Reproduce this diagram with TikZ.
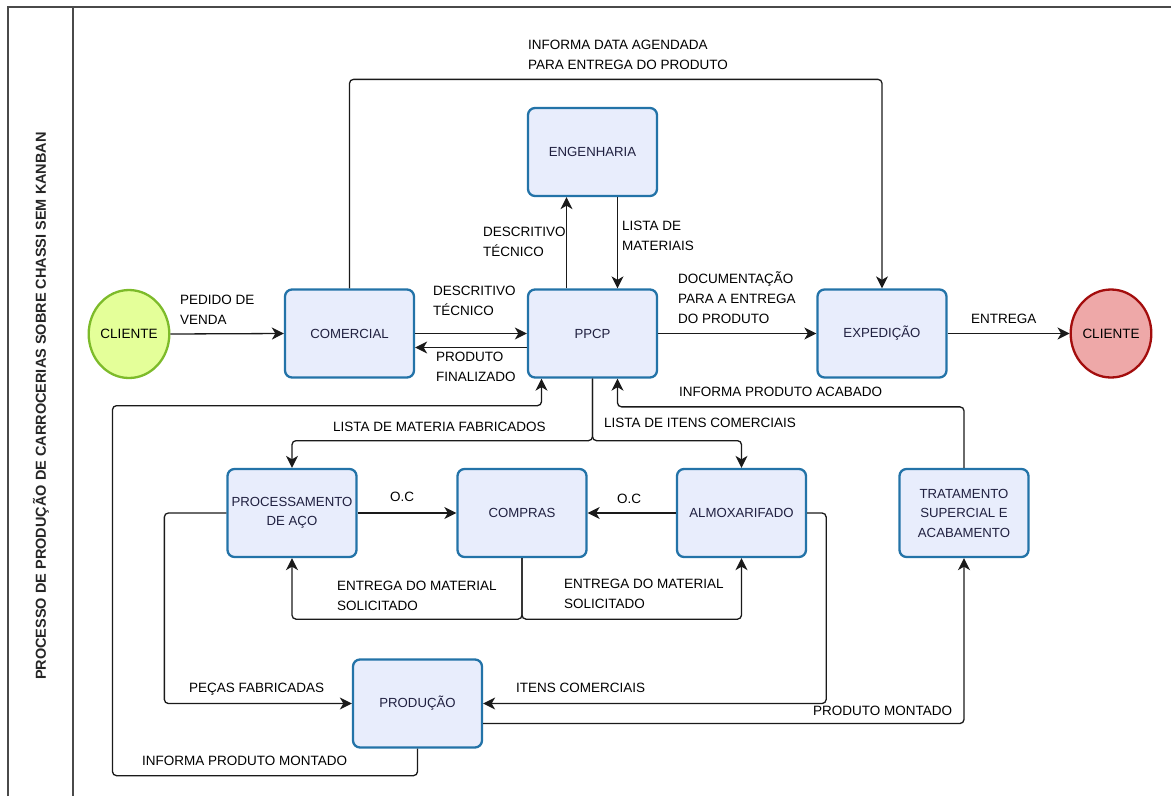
\documentclass[tikz,border=0pt]{standalone}
\usepackage{fontspec}
\setmainfont{Liberation Sans}[BoldFont={Liberation Sans Bold}]
\usepackage{tikz}
\usetikzlibrary{
  arrows.meta,
  shapes.geometric,
  positioning,
  calc
}
\definecolor{kbBox}{HTML}{E8EDFC}
\definecolor{kbEdge}{HTML}{2373A8}
\definecolor{kbText}{HTML}{202040}
\definecolor{kbStartFill}{HTML}{E4FF99}
\definecolor{kbStartEdge}{HTML}{7DBB2A}
\definecolor{kbEndFill}{HTML}{EEA8A8}
\definecolor{kbEndEdge}{HTML}{A30D0D}
\definecolor{kbLine}{HTML}{1A1A1A}
\definecolor{kbFrame}{HTML}{4A4A4A}
\tikzset{
  kbnode/.style={
    draw=kbEdge, fill=kbBox, line width=2.3pt, rounded corners=7pt,
    minimum width=129pt, minimum height=88pt, inner sep=2pt,
    align=center, text=kbText, font=\fontsize{13.2}{19.5}\selectfont
  },
  clientin/.style={draw=kbStartEdge, fill=kbStartFill, ellipse, line width=2.3pt,
    minimum width=77pt, minimum height=88pt, inner sep=0pt, font=\fontsize{13.5}{19}\selectfont},
  clientout/.style={clientin, draw=kbEndEdge, fill=kbEndFill},
  flow/.style={-{Stealth[length=12pt, width=12pt, inset=3.5pt]}, line width=1.3pt, kbLine, rounded corners=4pt},
  lbl/.style={anchor=north west, inner sep=0pt, align=left, font=\fontsize{13.5}{20}\selectfont},
  frame/.style={line width=1.6pt, kbFrame},
  titlebar/.style={rotate=90, font=\bfseries\fontsize{14.5}{17}\selectfont, black!85}
}

\begin{document}
\begin{tikzpicture}[x=1pt, y=-1pt]
  \useasboundingbox (0,0) rectangle (1171,796);
  \draw[frame] (8,796) -- (8,7) -- (1171,7);
  \draw[frame] (73,7) -- (73,796);
  \node[titlebar] (title) at (41,406) {PROCESSO DE PRODUÇÃO DE CARROCERIAS SOBRE CHASSI SEM KANBAN};

  \node[clientin] (cliA) at (129,334) {CLIENTE};
  \node[kbnode] (com) at (349.5,333.5) {COMERCIAL};
  \node[kbnode] (eng) at (592.5,152) {ENGENHARIA};
  \node[kbnode] (ppcp) at (592.5,333.5) {PPCP};
  \node[kbnode] (exp) at (882,333.5) {EXPEDIÇÃO};
  \node[clientout] (cliB) at (1111,333.5) {CLIENTE};
  \node[kbnode] (proc) at (292,513) {PROCESSAMENTO\\DE AÇO};
  \node[kbnode] (comp) at (522,513) {COMPRAS};
  \node[kbnode] (almox) at (741.5,513) {ALMOXARIFADO};
  \node[kbnode] (trat) at (964,513) {TRATAMENTO\\SUPERCIAL E\\ACABAMENTO};
  \node[kbnode] (prod) at (417.5,703.5) {PRODUÇÃO};

  \draw[flow] (cliA.east) -- (com.west);
  \draw[flow] (com.east) -- (ppcp.west);
  \draw[flow] ([yshift=-14pt]ppcp.west) -- ([yshift=-14pt]com.east);
  \draw[flow] ([xshift=-26pt]ppcp.north) -- ([xshift=-26pt]eng.south);
  \draw[flow] ([xshift=25pt]eng.south) -- ([xshift=25pt]ppcp.north);
  \draw[flow] (ppcp.east) -- (exp.west);
  \draw[flow] (exp.east) -- (cliB.west);
  \draw[flow] (com.north) -- ++(0,-209) -| (exp.north);
  \draw[flow] (ppcp.south) -- ++(0,62) -| (proc.north);
  \draw[flow] (ppcp.south) -- ++(0,62) -| (almox.north);
  \draw[flow] (proc.east) -- (comp.west);
  \draw[flow] (almox.west) -- (comp.east);
  \draw[flow] (comp.south) -- ++(0,61) -| (proc.south);
  \draw[flow] (comp.south) -- ++(0,61) -| (almox.south);
  \draw[flow] (proc.west) -- ++(-62,0) |- (prod.west);
  \draw[flow] (almox.east) -- ++(19,0) |- (prod.east);
  \draw[flow] ([yshift=-20pt]prod.east) -| (trat.south);
  \draw[flow] (trat.north) -- ++(0,-61) -| ([xshift=25pt]ppcp.south);
  \draw[flow] (prod.south) -- ++(0,27) -- ++(-305,0) -- ++(0,-370) -| ([xshift=-51pt]ppcp.south);

  \node[lbl] (lPedido) at (180,295) {PEDIDO DE\\VENDA};
  \node[lbl] (lDescA) at (433,286) {DESCRITIVO\\TÉCNICO};
  \node[lbl] (lFinal) at (436,352) {PRODUTO\\FINALIZADO};
  \node[lbl] (lDescB) at (483,227) {DESCRITIVO\\TÉCNICO};
  \node[lbl] (lLista) at (622,221) {LISTA DE\\MATERIAIS};
  \node[lbl] (lDoc) at (678,271) {DOCUMENTAÇÃO\\PARA A ENTREGA\\DO PRODUTO};
  \node[lbl] (lEntrega) at (971,314) {ENTREGA};
  \node[lbl] (lData) at (528,40) {INFORMA DATA AGENDADA\\PARA ENTREGA DO PRODUTO};
  \node[lbl] (lAcabado) at (679,387) {INFORMA PRODUTO ACABADO};
  \node[lbl] (lFabric) at (333,422) {LISTA DE MATERIA FABRICADOS};
  \node[lbl] (lItens) at (604,418) {LISTA DE ITENS COMERCIAIS};
  \node[lbl] (lOcA) at (390,492) {O.C};
  \node[lbl] (lOcB) at (617,494) {O.C};
  \node[lbl] (lEntA) at (337,581) {ENTREGA DO MATERIAL\\SOLICITADO};
  \node[lbl] (lEntB) at (564,579) {ENTREGA DO MATERIAL\\SOLICITADO};
  \node[lbl] (lPecas) at (189,683) {PEÇAS FABRICADAS};
  \node[lbl] (lItensB) at (516,683) {ITENS COMERCIAIS};
  \node[lbl] (lMontado) at (813,706) {PRODUTO MONTADO};
  \node[lbl] (lInforma) at (142,756) {INFORMA PRODUTO MONTADO};
\end{tikzpicture}
\end{document}
